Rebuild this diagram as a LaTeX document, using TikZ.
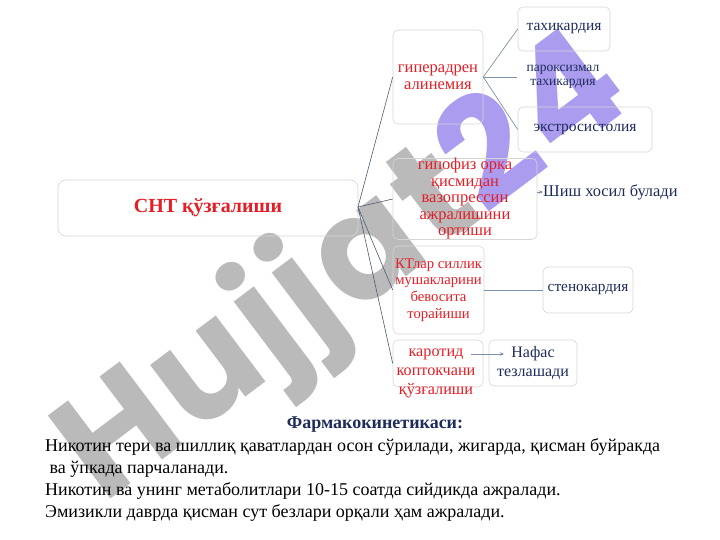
\documentclass[tikz,border=0pt]{standalone}
\usepackage{fontspec}
\setmainfont{Liberation Serif}
\newfontfamily\wmfont{Poppins}
\usetikzlibrary{arrows.meta}
\definecolor{snred}{RGB}{228,30,38}
\definecolor{snnavy}{RGB}{30,44,92}
\definecolor{snline}{RGB}{75,92,115}
\definecolor{snlight}{RGB}{125,145,170}
\definecolor{wmgray}{RGB}{186,186,186}
\definecolor{wmviolet}{RGB}{172,156,240}
\tikzset{
  sbox/.style={draw=black!16, line width=0.6pt, rounded corners=5pt, inner sep=0pt},
  redtxt/.style={text=snred, align=center, font=\fontsize{16.5}{17}\selectfont},
  navytxt/.style={text=snnavy, align=center, font=\fontsize{15.5}{17}\selectfont},
  hubline/.style={draw=snline, line width=0.6pt},
  subline/.style={draw=snlight, line width=0.7pt},
  arr/.style={draw=snlight, line width=0.6pt, -{Stealth[length=4pt,width=3.5pt]}},
  bodytxt/.style={anchor=base west, inner sep=0pt, font=\fontsize{18}{22}\selectfont},
}

\begin{document}
\begin{tikzpicture}[x=1pt, y=-1pt]
			%%%%% START %%%%%
			\fill[white] (0, 0) rectangle (720, 540);
			\useasboundingbox (0, 0) rectangle (720, 540);
			
			% watermark
			\node[rotate=37, inner sep=0pt, font=\wmfont\bfseries\fontsize{148}{148}\selectfont] (wm) at (346, 272) {\addfontfeatures{LetterSpace=3}\textcolor{wmgray}{Hujjat}\textcolor{wmviolet}{24}};
			
			\node[sbox, rounded corners=8pt, minimum width=300, minimum height=56, text=snred, font=\bfseries\fontsize{20}{22}\selectfont] (snt) at (208, 208) {СНТ қўзғалиши};
			
			\node[sbox, minimum width=90, minimum height=94, redtxt] (hyp) at (438, 77) {гиперадрен\\алинемия};
			\node[sbox, minimum width=92, minimum height=44, navytxt] (tax) at (564, 29) {тахикардия};
			\node[minimum width=92, minimum height=44, inner sep=0pt, navytxt, font=\fontsize{13.5}{14}\selectfont] (parox) at (563, 77) {пароксизмал\\тахикардия};
			\node[sbox, minimum width=134, minimum height=45, navytxt] (ekstr) at (585, 129.5) {экстросистолия};
			
			\node[sbox, minimum width=144, minimum height=80, redtxt, font=\fontsize{16.5}{16.5}\selectfont] (gip) at (465, 199) {гипофиз орка\\қисмидан\\вазопрессин\\ажралишини\\ортиши};
			\node[anchor=west, inner sep=0pt, text=snnavy, font=\fontsize{16.4}{18}\selectfont] (shish) at (543, 192) {Шиш хосил булади};
			
			\node[sbox, minimum width=91, minimum height=88, redtxt, font=\fontsize{14.7}{16.7}\selectfont] (kt) at (438.5, 290) {КТлар силлик\\мушакларини\\бевосита\\торайиши};
			\node[sbox, minimum width=90, minimum height=46, navytxt, font=\fontsize{15.3}{17}\selectfont] (steno) at (588, 290) {стенокардия};
			
			\node[sbox, minimum width=90, minimum height=47] (kar) at (438, 363.5) {};
			\node[redtxt, inner sep=0pt, font=\fontsize{16.2}{19}\selectfont] (kartxt) at (436, 373) {каротид\\коптокчани\\қўзғалиши};
			\node[sbox, minimum width=88, minimum height=46, navytxt, font=\fontsize{16}{19}\selectfont] (nafas) at (533, 363) {Нафас\\тезлашади};
			
			\coordinate (hub) at (358, 207);
			\coordinate (karR) at (471, 354);
			\coordinate (nafL) at (504, 354);
			
			\draw[hubline] (hub) -- (hyp.west);
			\draw[hubline] (hub) -- (gip.west);
			\draw[hubline] (hub) -- (kt.west);
			\draw[hubline] (hub) -- (kar.west);
			
			\draw[subline] (hyp.east) -- (tax.west);
			\draw[subline] (hyp.east) -- (parox.west);
			\draw[subline] (hyp.east) -- (ekstr.west);
			
			\draw[arr] (gip.east |- shish.west) -- (shish.west);
			\draw[subline] (kt.east) -- (steno.west);
			\draw[arr] (karR) -- (nafL);
			
			% pharmacokinetics
			\node[anchor=base, inner sep=0pt, text=snnavy, font=\bfseries\fontsize{18}{20}\selectfont] (farm) at (375, 428) {Фармакокинетикаси:};
			\node[bodytxt] (l1) at (45, 451) {Никотин тери ва шиллиқ қаватлардан осон сўрилади, жигарда, қисман буйракда};
			\node[bodytxt] (l2) at (45, 473) {\ ва ўпкада парчаланади.};
			\node[bodytxt] (l3) at (45, 495) {Никотин ва унинг метаболитлари 10-15 соатда сийдикда ажралади.};
			\node[bodytxt] (l4) at (45, 517) {Эмизикли даврда қисман сут безлари орқали ҳам ажралади.};
			%%%%% END %%%%%
\end{tikzpicture}
\end{document}
